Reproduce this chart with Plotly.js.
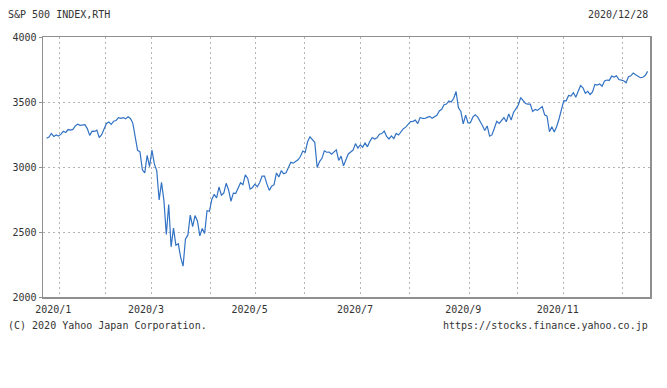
<!DOCTYPE html>
<html>
<head>
<meta charset="utf-8">
<script src="https://cdn.plot.ly/plotly-3.0.1.min.js"></script>
<style>html,body{margin:0;padding:0;background:#fff;}#chart{width:667px;height:388px;}</style>
</head>
<body>
<div id="chart"></div>
<script>
// S&P 500 daily closes
const dates = [
"2019-12-30","2019-12-31",
"2020-01-02","2020-01-03","2020-01-06","2020-01-07","2020-01-08","2020-01-09","2020-01-10","2020-01-13","2020-01-14","2020-01-15","2020-01-16","2020-01-17","2020-01-21","2020-01-22","2020-01-23","2020-01-24","2020-01-27","2020-01-28","2020-01-29","2020-01-30","2020-01-31",
"2020-02-03","2020-02-04","2020-02-05","2020-02-06","2020-02-07","2020-02-10","2020-02-11","2020-02-12","2020-02-13","2020-02-14","2020-02-18","2020-02-19","2020-02-20","2020-02-21","2020-02-24","2020-02-25","2020-02-26","2020-02-27","2020-02-28",
"2020-03-02","2020-03-03","2020-03-04","2020-03-05","2020-03-06","2020-03-09","2020-03-10","2020-03-11","2020-03-12","2020-03-13","2020-03-16","2020-03-17","2020-03-18","2020-03-19","2020-03-20","2020-03-23","2020-03-24","2020-03-25","2020-03-26","2020-03-27","2020-03-30","2020-03-31",
"2020-04-01","2020-04-02","2020-04-03","2020-04-06","2020-04-07","2020-04-08","2020-04-09","2020-04-13","2020-04-14","2020-04-15","2020-04-16","2020-04-17","2020-04-20","2020-04-21","2020-04-22","2020-04-23","2020-04-24","2020-04-27","2020-04-28","2020-04-29","2020-04-30",
"2020-05-01","2020-05-04","2020-05-05","2020-05-06","2020-05-07","2020-05-08","2020-05-11","2020-05-12","2020-05-13","2020-05-14","2020-05-15","2020-05-18","2020-05-19","2020-05-20","2020-05-21","2020-05-22","2020-05-26","2020-05-27","2020-05-28","2020-05-29",
"2020-06-01","2020-06-02","2020-06-03","2020-06-04","2020-06-05","2020-06-08","2020-06-09","2020-06-10","2020-06-11","2020-06-12","2020-06-15","2020-06-16","2020-06-17","2020-06-18","2020-06-19","2020-06-22","2020-06-23","2020-06-24","2020-06-25","2020-06-26","2020-06-29","2020-06-30",
"2020-07-01","2020-07-02","2020-07-06","2020-07-07","2020-07-08","2020-07-09","2020-07-10","2020-07-13","2020-07-14","2020-07-15","2020-07-16","2020-07-17","2020-07-20","2020-07-21","2020-07-22","2020-07-23","2020-07-24","2020-07-27","2020-07-28","2020-07-29","2020-07-30","2020-07-31",
"2020-08-03","2020-08-04","2020-08-05","2020-08-06","2020-08-07","2020-08-10","2020-08-11","2020-08-12","2020-08-13","2020-08-14","2020-08-17","2020-08-18","2020-08-19","2020-08-20","2020-08-21","2020-08-24","2020-08-25","2020-08-26","2020-08-27","2020-08-28","2020-08-31",
"2020-09-01","2020-09-02","2020-09-03","2020-09-04","2020-09-08","2020-09-09","2020-09-10","2020-09-11","2020-09-14","2020-09-15","2020-09-16","2020-09-17","2020-09-18","2020-09-21","2020-09-22","2020-09-23","2020-09-24","2020-09-25","2020-09-28","2020-09-29","2020-09-30",
"2020-10-01","2020-10-02","2020-10-05","2020-10-06","2020-10-07","2020-10-08","2020-10-09","2020-10-12","2020-10-13","2020-10-14","2020-10-15","2020-10-16","2020-10-19","2020-10-20","2020-10-21","2020-10-22","2020-10-23","2020-10-26","2020-10-27","2020-10-28","2020-10-29","2020-10-30",
"2020-11-02","2020-11-03","2020-11-04","2020-11-05","2020-11-06","2020-11-09","2020-11-10","2020-11-11","2020-11-12","2020-11-13","2020-11-16","2020-11-17","2020-11-18","2020-11-19","2020-11-20","2020-11-23","2020-11-24","2020-11-25","2020-11-27","2020-11-30",
"2020-12-01","2020-12-02","2020-12-03","2020-12-04","2020-12-07","2020-12-08","2020-12-09","2020-12-10","2020-12-11","2020-12-14","2020-12-15","2020-12-16","2020-12-17","2020-12-18","2020-12-21","2020-12-22","2020-12-23","2020-12-24","2020-12-28"
];
const closes = [
3221.3,3230.8,
3257.9,3234.9,3246.3,3237.2,3253.1,3274.7,3265.4,3288.1,3283.2,3289.3,3316.8,3329.6,3320.8,3321.8,3325.5,3295.5,3243.6,3276.2,3273.4,3283.7,3225.5,
3248.9,3297.6,3334.7,3345.8,3327.7,3352.1,3357.8,3379.5,3373.9,3380.2,3370.3,3386.2,3373.2,3337.8,3225.9,3128.2,3116.4,2978.8,2954.2,
3090.2,3003.4,3130.1,3023.9,2972.4,2746.6,2882.2,2741.4,2480.6,2711.0,2386.1,2529.2,2398.1,2409.4,2304.9,2237.4,2447.3,2475.6,2630.1,2541.5,2626.7,2584.6,
2470.5,2526.9,2488.7,2663.7,2659.4,2750.0,2789.8,2761.6,2846.1,2783.4,2799.6,2874.6,2823.2,2736.6,2799.3,2797.8,2836.7,2878.5,2863.4,2939.5,2912.4,
2830.7,2842.7,2868.4,2848.4,2881.2,2929.8,2930.3,2870.1,2820.0,2852.5,2863.7,2953.9,2922.9,2971.6,2948.5,2955.5,2991.8,3036.1,3029.7,3044.3,
3055.7,3080.8,3122.9,3112.4,3193.9,3232.4,3207.2,3190.1,2996.1,3041.3,3066.6,3124.7,3113.5,3115.3,3097.7,3117.9,3131.3,3050.3,3083.8,3009.1,3053.2,3100.3,
3115.9,3130.0,3179.7,3145.3,3169.9,3152.1,3185.0,3155.2,3197.5,3226.6,3215.6,3224.7,3251.8,3257.3,3276.0,3235.7,3215.6,3239.4,3218.4,3258.4,3246.2,3271.1,
3294.6,3306.5,3327.8,3349.2,3351.3,3360.5,3333.7,3380.4,3373.4,3372.9,3382.0,3389.8,3374.9,3385.5,3397.2,3431.3,3443.6,3478.7,3484.6,3508.0,3500.3,
3526.7,3580.8,3455.1,3427.0,3331.8,3399.0,3339.2,3341.0,3383.5,3401.2,3385.5,3357.0,3319.5,3281.1,3315.6,3236.9,3246.6,3298.5,3351.6,3335.5,3363.0,
3380.8,3348.4,3408.6,3361.0,3419.4,3446.8,3477.1,3534.2,3511.9,3488.7,3483.3,3483.8,3426.9,3443.1,3435.6,3453.5,3465.4,3401.0,3390.7,3271.0,3310.1,3270.0,
3310.2,3369.2,3443.4,3510.5,3509.4,3550.5,3545.5,3572.7,3537.0,3585.2,3626.9,3609.5,3567.8,3581.9,3557.5,3577.6,3635.4,3629.7,3638.4,3621.6,
3662.5,3669.0,3666.7,3699.1,3692.0,3702.3,3672.8,3668.1,3663.5,3647.5,3694.6,3701.2,3722.5,3709.4,3694.9,3687.3,3690.0,3703.1,3735.4
];
const holidays = ["2019-12-25","2020-01-01","2020-01-20","2020-02-17","2020-04-10","2020-05-25","2020-07-03","2020-09-07","2020-11-26","2020-12-25"];
// month grid lines, placed where the reference draws them
const monthTicks = ["2020-01-07 07:00","2020-02-04 10:00","2020-03-04","2020-04-07 07:00","2020-05-05 07:00","2020-06-03 16:00","2020-07-08 07:00","2020-08-05 12:00","2020-09-10 12:00","2020-10-08 12:00","2020-11-05","2020-12-10 10:00"];
const monthLabels = ["2020/1","","2020/3","","2020/5","","2020/7","","2020/9","","2020/11",""];
const yTicks = [2000,2500,3000,3500,4000];
const yLabels = ["2000","2500","3000","3500","4000"];

const font = {family: "DejaVu Sans Mono, monospace", size: 10, color: "#333"};
const trace = {
  x: dates, y: closes, type: "scatter", mode: "lines",
  line: {color: "#3272c4", width: 1.2},
  hoverinfo: "skip"
};
const layout = {
  width: 667, height: 388,
  margin: {l: 43, r: 17, t: 37, b: 91},
  paper_bgcolor: "#fff", plot_bgcolor: "#fff",
  showlegend: false,
  font: font,
  xaxis: {
    type: "date",
    range: ["2019-12-26 12:00", "2020-12-29 00:00"],
    rangebreaks: [{bounds: ["sat", "mon"]}, {values: holidays}],
    tickmode: "array", tickvals: monthTicks, ticktext: monthLabels,
    ticks: "", ticklabelshift: -6, ticklabelstandoff: 2,
    showgrid: true, gridcolor: "#b4b4b4", griddash: "2px,3px", gridwidth: 1,
    showline: true, linecolor: "#8f8f8f", linewidth: 1.5, mirror: true,
    zeroline: false, tickfont: font
  },
  yaxis: {
    range: [2000, 4000],
    tickmode: "array", tickvals: yTicks, ticktext: yLabels,
    ticks: "outside", ticklen: 3, tickcolor: "#8f8f8f",
    showgrid: true, gridcolor: "#b4b4b4", griddash: "2px,3px", gridwidth: 1,
    showline: true, linecolor: "#8f8f8f", linewidth: 1.5, mirror: true,
    zeroline: false, tickfont: font
  },
  annotations: [
    {text: "S&P 500 INDEX,RTH", xref: "paper", yref: "paper", x: -37/607, y: 1 + 23/260, xanchor: "left", yanchor: "middle", showarrow: false, font: font},
    {text: "2020/12/28", xref: "paper", yref: "paper", x: 1, y: 1 + 23/260, xanchor: "right", yanchor: "middle", showarrow: false, font: font},
    {text: "(C) 2020 Yahoo Japan Corporation.", xref: "paper", yref: "paper", x: -37/607, y: -28/260, xanchor: "left", yanchor: "middle", showarrow: false, font: font},
    {text: "https://stocks.finance.yahoo.co.jp", xref: "paper", yref: "paper", x: 1, y: -28/260, xanchor: "right", yanchor: "middle", showarrow: false, font: font}
  ]
};
Plotly.newPlot("chart", [trace], layout, {staticPlot: true, displayModeBar: false});
</script>
</body>
</html>
